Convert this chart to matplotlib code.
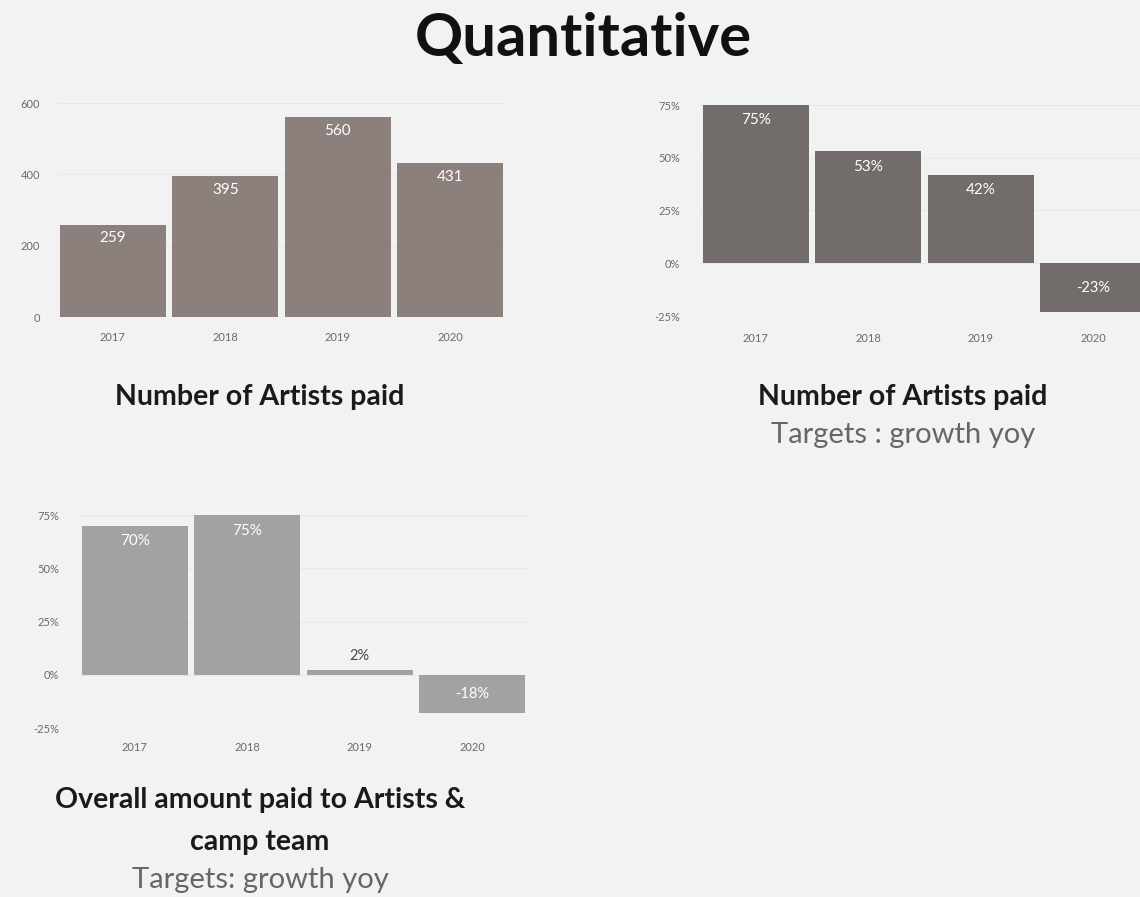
import numpy as np
import matplotlib
matplotlib.use("Agg")
import matplotlib.pyplot as plt

plt.rcParams['font.family'] = ['Lato', 'DejaVu Sans']

# data
years = ["2017", "2018", "2019", "2020"]
artists_paid = [259, 395, 560, 431]
artists_growth = [75, 53, 42, -23]
amount_growth = [70, 75, 2, -18]

bg = "#f2f2f2"
fig = plt.figure(figsize=(11.4, 8.97), dpi=100, facecolor=bg)

W, H = 1140, 897


def make_ax(x0, x1, ytop, ybot):
    # pixel box of the first bar's left edge to the last bar's right edge
    x0 -= 3.5
    x1 += 3.5
    ax = fig.add_axes([x0 / W, 1 - ybot / H, (x1 - x0) / W, (ybot - ytop) / H])
    ax.set_facecolor(bg)
    for s in ax.spines.values():
        s.set_visible(False)
    ax.tick_params(length=0, colors="#6a6a6a", labelsize=8)
    ax.set_axisbelow(True)
    ax.grid(axis="y", color="#e8e8e8", lw=0.8)
    return ax


def bars(ax, vals, color, pct, inner_pad):
    x = np.arange(len(vals))
    ax.bar(x, vals, width=0.938, color=color, zorder=2)
    ax.set_xlim(-0.5, len(vals) - 0.5)
    ax.set_xticks(x)
    ax.set_xticklabels(years)
    for xi, v in zip(x, vals):
        lab = f"{v}%" if pct else f"{v}"
        if abs(v) < 5:
            ax.text(xi, v + inner_pad * 0.9, lab, ha="center", va="bottom",
                    color="#4a4a4a", fontsize=10.5)
        elif v >= 0:
            ax.text(xi, v - inner_pad, lab, ha="center", va="top",
                    color="white", fontsize=11)
        else:
            ax.text(xi, v / 2, lab, ha="center", va="center",
                    color="white", fontsize=10.5)


# panel 1
ax1 = make_ax(60, 503, 103, 317)
bars(ax1, artists_paid, "#8c807c", False, 18)
ax1.set_ylim(0, 600)
ax1.set_yticks([0, 200, 400, 600])
ax1.tick_params(axis="x", pad=11)
ax1.tick_params(axis="y", pad=12)

# panel 2
ax2 = make_ax(703, 1146, 105, 316)
bars(ax2, artists_growth, "#726c6b", True, 4)
ax2.set_ylim(-25, 75)
ax2.set_yticks([-25, 0, 25, 50, 75])
ax2.set_yticklabels(["-25%", "0%", "25%", "50%", "75%"])
ax2.tick_params(axis="x", pad=12)
ax2.tick_params(axis="y", pad=14)

# panel 3
ax3 = make_ax(82, 525, 515, 728)
bars(ax3, amount_growth, "#a4a1a2", True, 4)
ax3.set_ylim(-25, 75)
ax3.set_yticks([-25, 0, 25, 50, 75])
ax3.set_yticklabels(["-25%", "0%", "25%", "50%", "75%"])
ax3.tick_params(axis="x", pad=10)
ax3.tick_params(axis="y", pad=14)

# titles
fig.text(583 / W, 1 - 39 / H, "Quantitative", ha="center", va="center",
         fontsize=43, fontweight="bold", color="#111111")
sub = dict(ha="center", va="center", fontsize=20.5, fontweight="bold",
           color="#1a1a1a")
note = dict(ha="center", va="center", fontsize=21, color="#666666")
fig.text(260 / W, 1 - 397 / H, "Number of Artists paid", **sub)
fig.text(903 / W, 1 - 397 / H, "Number of Artists paid", **sub)
fig.text(903 / W, 1 - 435 / H, "Targets : growth yoy", **note)
fig.text(260 / W, 1 - 800 / H, "Overall amount paid to Artists &", **sub)
fig.text(260 / W, 1 - 842 / H, "camp team", **sub)
fig.text(260 / W, 1 - 880 / H, "Targets: growth yoy", **note)

fig.savefig("out.png", dpi=100, facecolor=bg)
